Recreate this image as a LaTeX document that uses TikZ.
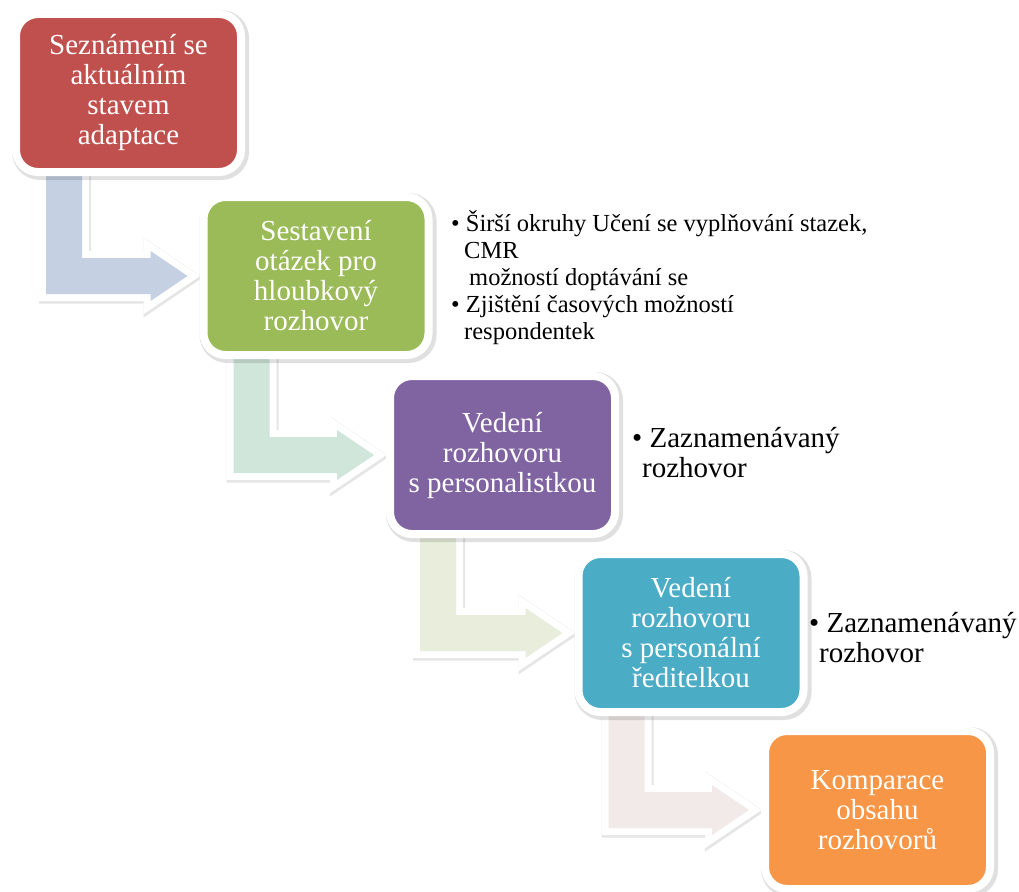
\documentclass[tikz,border=0pt]{standalone}
\usepackage{fontspec}
\setmainfont{Liberation Serif}
\usetikzlibrary{calc,shadows,backgrounds}
\definecolor{stepred}{RGB}{192,80,77}
\definecolor{stepgreen}{RGB}{155,187,89}
\definecolor{steppurple}{RGB}{128,100,162}
\definecolor{stepteal}{RGB}{75,172,198}
\definecolor{steporange}{RGB}{247,150,70}
\definecolor{arrowblue}{RGB}{197,208,227}
\definecolor{arrowmint}{RGB}{208,230,218}
\definecolor{arrowolive}{RGB}{233,237,220}
\definecolor{arrowrose}{RGB}{242,233,233}

% bent arrow from the foot of one step to the side of the next
\newcommand{\steparrow}[3]{%
  \path[bentarrow=#3] let \p1=(#1.south west), \p2=(#2.west) in
    (\x1+30pt,\y1+20pt) -- (\x1+30pt,\y2-18pt) -- (\x2-53pt,\y2-18pt)
    -- (\x2-53pt,\y2-25pt) -- (\x2-16pt,\y2) -- (\x2-53pt,\y2+25pt)
    -- (\x2-53pt,\y2+18pt) -- (\x1+66pt,\y2+18pt) -- (\x1+66pt,\y1+20pt) -- cycle;}

\begin{document}
\begin{tikzpicture}[x=1pt,y=-1pt,
    stepbox/.style={rounded corners=22pt, fill=#1, draw=white, line width=8pt,
      outer sep=0pt, inner sep=0pt, minimum width=225pt, minimum height=158pt,
      align=center, text=white, font=\fontsize{29}{30}\selectfont,
      drop shadow={shadow xshift=2pt, shadow yshift=-2pt, opacity=.12,
        fill=black, draw=black, line width=12pt}},
    bentarrow/.style={fill=#1, line join=miter,
      drop shadow={shadow xshift=1pt, shadow yshift=-1.5pt, opacity=.1,
        fill=black, draw=black, line width=16pt},
      preaction={draw=white, line width=14pt}},
    note/.style={anchor=west, align=left, inner sep=0pt,
      font=\fontsize{29}{30}\selectfont}]
    \useasboundingbox (0,0) rectangle (1019,891);

    % Steps
    \node[stepbox=stepred] (s1) at (128.5,93) {Seznámení se\\aktuálním\\stavem\\adaptace};
    \node[stepbox=stepgreen] (s2) at (316,276) {Sestavení\\otázek pro\\hloubkový\\rozhovor};
    \node[stepbox=steppurple] (s3) at (502.5,455) {Vedení\\rozhovoru\\s personalistkou};
    \node[stepbox=stepteal] (s4) at (691,633) {Vedení\\rozhovoru\\s personální\\ředitelkou};
    \node[stepbox=steporange] (s5) at (877.5,810) {Komparace\\obsahu\\rozhovorů};

    % Arrows
    \begin{scope}[on background layer]
        \steparrow{s1}{s2}{arrowblue}
        \steparrow{s2}{s3}{arrowmint}
        \steparrow{s3}{s4}{arrowolive}
        \steparrow{s4}{s5}{arrowrose}
    \end{scope}

    % Notes
    \node[note, font=\fontsize{24.5}{27}\selectfont] (n2) at (451,277.5)
        {• Širší okruhy Učení se vyplňování stazek,\\\hspace*{13pt}CMR\\
         \hspace*{18pt}možností doptávání se\\• Zjištění časových možností\\
         \hspace*{13pt}respondentek};
    \node[note] (n3) at (632,453) {• Zaznamenávaný\\\hspace*{10pt}rozhovor};
    \node[note] (n4) at (809,637.5) {• Zaznamenávaný\\\hspace*{10pt}rozhovor};
\end{tikzpicture}
\end{document}
